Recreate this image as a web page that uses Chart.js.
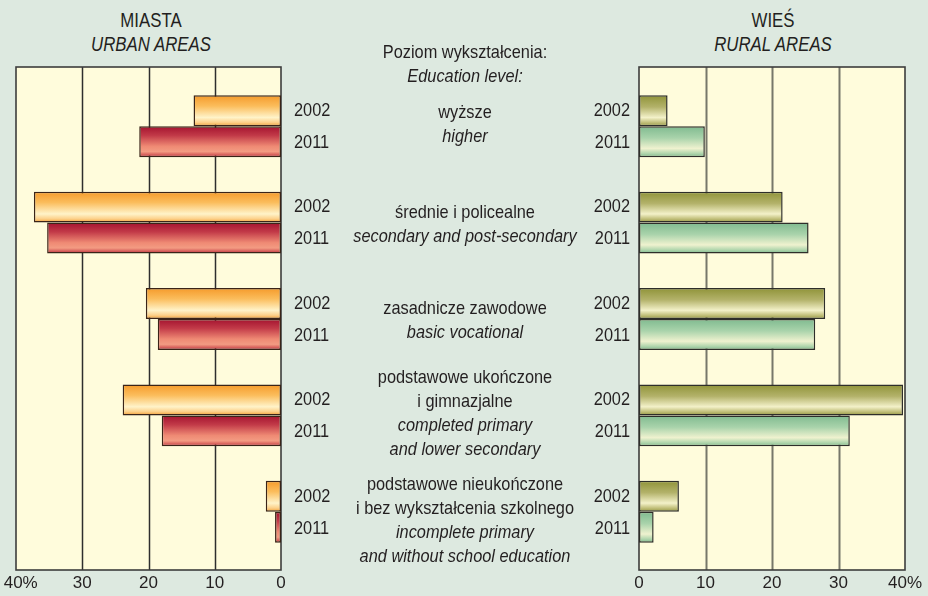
<!DOCTYPE html>
<html>
<head>
<meta charset="utf-8">
<script src="https://cdn.jsdelivr.net/npm/chart.js@4.4.0/dist/chart.umd.min.js"></script>
<style>
  body { margin: 0; background: #dde9e0; }
  #wrap { position: relative; width: 928px; height: 596px; overflow: hidden;
          font-family: 'Liberation Sans', Arial, sans-serif; color: #231f20; }
  canvas { position: absolute; top: 0; }
  #urban { left: 0; }
  #rural { left: 560px; }
  .title { position: absolute; width: 240px; text-align: center; font-size: 20px; line-height: 24px;
           transform: scaleX(0.84); }
  .mid { position: absolute; left: 285px; width: 360px; text-align: center; font-size: 19px; line-height: 24px;
         transform: scaleX(0.86); white-space: nowrap; }
  i { font-style: italic; }
</style>
</head>
<body>
<div id="wrap">
  <div class="title" style="left:31px;top:8px">MIASTA<br><i>URBAN AREAS</i></div>
  <div class="title" style="left:653px;top:8px">WIEŚ<br><i>RURAL AREAS</i></div>
  <canvas id="urban" width="340" height="596"></canvas>
  <canvas id="rural" width="376" height="596"></canvas>
  <div id="labels"></div>
</div>
<script>
var categories = ['wyższe', 'średnie i policealne', 'zasadnicze zawodowe',
                  'podstawowe ukończone i gimnazjalne', 'podstawowe nieukończone i bez wykształcenia szkolnego'];
var labelsPl = [['wyższe'], ['średnie i policealne'], ['zasadnicze zawodowe'],
                ['podstawowe ukończone', 'i gimnazjalne'],
                ['podstawowe nieukończone', 'i bez wykształcenia szkolnego']];
var labelsEn = [['higher'], ['secondary and post-secondary'], ['basic vocational'],
                ['completed primary', 'and lower secondary'],
                ['incomplete primary', 'and without school education']];
var years = ['2002', '2011'];
var urban2002 = [13.2, 37.3, 20.4, 23.9, 2.3];
var urban2011 = [21.4, 35.3, 18.6, 18.0, 0.9];
var rural2002 = [4.3, 21.6, 28.0, 39.7, 6.0];
var rural2011 = [9.9, 25.5, 26.5, 31.7, 2.2];
var xTicks = [0, 10, 20, 30, 40];

var FONT = "'Liberation Sans', Arial, sans-serif";
var catPct = 0.642;

// middle text column
var blockTops = [100, 200, 296, 365, 472];
var html = '<div class="mid" style="top:40px">Poziom wykształcenia:<br><i>Education level:</i></div>';
for (var i = 0; i < categories.length; i++) {
  html += '<div class="mid" style="top:' + blockTops[i] + 'px">' +
    labelsPl[i].join('<br>') + '<br><i>' + labelsEn[i].join('<br>') + '</i></div>';
}
document.getElementById('labels').innerHTML = html;

// vertical gradient matching one bar
function barGradient(stops, fallback) {
  return function(ctx) {
    var chart = ctx.chart;
    var y = chart.scales.y;
    if (ctx.dataIndex === undefined || !y) return fallback;
    var band = Math.abs(y.getPixelForValue(1) - y.getPixelForValue(0));
    var half = band * catPct / 2;
    var c = y.getPixelForValue(ctx.dataIndex);
    if (!isFinite(c) || !isFinite(half) || half <= 0) return fallback;
    var top = ctx.datasetIndex === 0 ? c - half : c;
    var g = chart.ctx.createLinearGradient(0, top, 0, top + half);
    stops.forEach(function(s) { g.addColorStop(s[0], s[1]); });
    return g;
  };
}

function framePlugin(gridColor, gridWidth, side) {
  return {
    id: 'frame',
    beforeDatasetsDraw: function(chart) {
      var a = chart.chartArea, ctx = chart.ctx, x = chart.scales.x;
      var top = a.top - 11, bottom = a.bottom + 10;
      ctx.save();
      ctx.fillStyle = '#fffcdc';
      ctx.fillRect(a.left, top, a.right - a.left, bottom - top);
      ctx.strokeStyle = gridColor;
      ctx.lineWidth = gridWidth;
      [10, 20, 30].forEach(function(v) {
        var px = Math.round(x.getPixelForValue(v)) + 0.5;
        ctx.beginPath(); ctx.moveTo(px, top); ctx.lineTo(px, bottom); ctx.stroke();
      });
      ctx.strokeStyle = '#3d3d3d';
      ctx.lineWidth = 1.6;
      ctx.strokeRect(a.left, top, a.right - a.left, bottom - top);
      ctx.restore();
    },
    afterDraw: function(chart) {
      var a = chart.chartArea, ctx = chart.ctx, y = chart.scales.y;
      var band = Math.abs(y.getPixelForValue(1) - y.getPixelForValue(0));
      var half = band * catPct / 2;
      var sx = 0.86;
      ctx.save();
      ctx.font = '19px ' + FONT;
      ctx.fillStyle = '#231f20';
      ctx.textBaseline = 'middle';
      ctx.textAlign = side === 'right' ? 'left' : 'right';
      var tx = side === 'right' ? a.right + 13 : a.left - 9;
      ctx.scale(sx, 1);
      for (var i = 0; i < categories.length; i++) {
        var c = y.getPixelForValue(i);
        ctx.fillText(years[0], tx / sx, c - half / 2);
        ctx.fillText(years[1], tx / sx, c + half / 2 + 1);
      }
      ctx.restore();
    }
  };
}

function makeChart(id, d1, d2, grad1, grad2, border, reverse, padding, gridColor, gridWidth, side) {
  return new Chart(document.getElementById(id), {
    type: 'bar',
    data: {
      labels: categories,
      datasets: [
        { label: years[0], data: d1, backgroundColor: grad1, borderColor: border, borderWidth: 1.5, borderSkipped: false },
        { label: years[1], data: d2, backgroundColor: grad2, borderColor: border, borderWidth: 1.5, borderSkipped: false }
      ]
    },
    options: {
      indexAxis: 'y',
      responsive: false,
      animation: false,
      layout: { padding: padding },
      categoryPercentage: catPct,
      barPercentage: 1,
      plugins: { legend: { display: false }, tooltip: { enabled: false } },
      scales: {
        y: { type: 'category', display: false, offset: true },
        x: {
          type: 'linear', min: 0, max: 40, reverse: reverse,
          afterBuildTicks: function(s) { s.ticks = xTicks.map(function(v) { return { value: v }; }); },
          afterFit: function(s) { s.height = 32; s.paddingLeft = 0; s.paddingRight = 0; },
          grid: { display: false, drawTicks: false },
          border: { display: false },
          ticks: {
            padding: 13, color: '#231f20', maxRotation: 0,
            font: { family: FONT, size: 17 },
            callback: function(v) { return v === 40 ? (reverse ? '  40%' : '40%') : v; }
          }
        }
      }
    },
    plugins: [framePlugin(gridColor, gridWidth, side)]
  });
}

makeChart('urban', urban2002, urban2011,
  barGradient([[0, '#f59a2a'], [0.35, '#fbbd5c'], [0.72, '#fff3c9'], [0.88, '#fcd089'], [1, '#f29b30']], '#f8b040'),
  barGradient([[0, '#a3122f'], [0.3, '#c23a48'], [0.65, '#ef8a74'], [0.82, '#f39b82'], [0.93, '#d45a58'], [1, '#9c1430']], '#c83848'),
  '#3a2418', true, { left: 16, right: 59, top: 78, bottom: 4 }, '#2e2e2e', 1.5, 'right');

makeChart('rural', rural2002, rural2011,
  barGradient([[0, '#8f9338'], [0.38, '#b3b26a'], [0.72, '#f3f1c9'], [0.88, '#c1bf7a'], [1, '#939642']], '#b0b060'),
  barGradient([[0, '#7fba8f'], [0.38, '#a9d3ab'], [0.72, '#eff2cf'], [0.88, '#b1d6ad'], [1, '#7cb68b']], '#a8d0a8'),
  '#2e2e2a', false, { left: 79, right: 31, top: 78, bottom: 4 }, '#77776a', 2, 'left');
</script>
</body>
</html>
